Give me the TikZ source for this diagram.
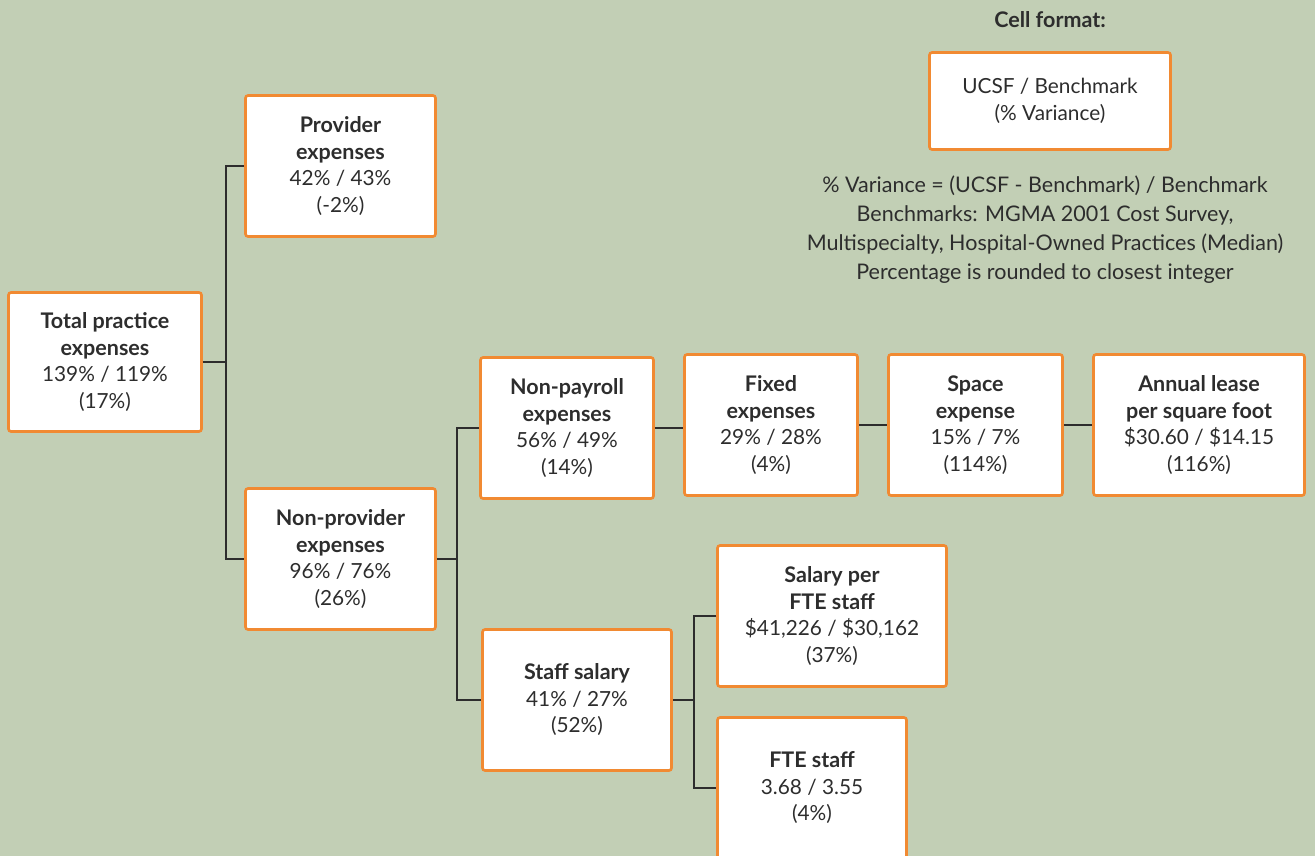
\documentclass[tikz,border=0pt]{standalone}
\usepackage{fontspec}
\setmainfont{Lato}
\usepackage{xcolor}
\usepackage{tikz}
\usetikzlibrary{positioning}
\definecolor{sage}{RGB}{194,207,181}
\definecolor{boxorange}{RGB}{241,138,50}
\definecolor{inkgray}{RGB}{45,45,45}
\newcommand{\hd}[1]{{\fontsize{21.5}{26.5}\selectfont\bfseries #1}}

\begin{document}
\begin{tikzpicture}[x=1pt,y=-1pt,
    cell/.style={draw=boxorange, line width=2.6pt, fill=white, rounded corners=2.5pt,
        align=center, inner sep=0pt, text=inkgray,
        font=\fontsize{20.8}{26.5}\selectfont},
    conn/.style={draw=inkgray, line width=1.1pt},
    note/.style={align=center, text=inkgray, font=\fontsize{21.5}{29}\selectfont}]
    \fill[sage] (0,0) rectangle (1315,856);
    \useasboundingbox (0,0) rectangle (1315,856);

    % cells of the tree
    \node[cell, minimum width=193pt, minimum height=139pt] (total) at (105,362)
        {\hd{Total practice}\\\hd{expenses}\\139\% / 119\%\\(17\%)};
    \node[cell, minimum width=190pt, minimum height=141pt] (prov) at (340.5,166)
        {\hd{Provider}\\\hd{expenses}\\42\% / 43\%\\(-2\%)};
    \node[cell, minimum width=190pt, minimum height=141pt] (nonprov) at (340.5,559)
        {\hd{Non-provider}\\\hd{expenses}\\96\% / 76\%\\(26\%)};
    \node[cell, minimum width=173pt, minimum height=141pt] (nonpay) at (567,428)
        {\hd{Non-payroll}\\\hd{expenses}\\56\% / 49\%\\(14\%)};
    \node[cell, minimum width=173pt, minimum height=141pt] (fixed) at (771,425)
        {\hd{Fixed}\\\hd{expenses}\\29\% / 28\%\\(4\%)};
    \node[cell, minimum width=174pt, minimum height=141pt] (space) at (975.5,425)
        {\hd{Space}\\\hd{expense}\\15\% / 7\%\\(114\%)};
    \node[cell, minimum width=211pt, minimum height=141pt] (lease) at (1199,425)
        {\hd{Annual lease}\\\hd{per square foot}\\\$30.60 / \$14.15\\(116\%)};
    \node[cell, minimum width=189pt, minimum height=141pt] (staff) at (577,700)
        {\hd{Staff salary}\\41\% / 27\%\\(52\%)};
    \node[cell, minimum width=229pt, minimum height=141pt] (perfte) at (832,616)
        {\hd{Salary per}\\\hd{FTE staff}\\\$41,226 / \$30,162\\(37\%)};
    \node[cell, minimum width=189pt, minimum height=141pt] (fte) at (812,788)
        {\hd{FTE staff}\\3.68 / 3.55\\(4\%)};

    % legend
    \node[note] (fmt) at (1050,20) {\hd{Cell format:}};
    \node[cell, minimum width=241pt, minimum height=97pt] (legend) at (1050,101)
        {UCSF / Benchmark\\(\% Variance)};
    \node[note] (defs) at (1045,230)
        {\% Variance = (UCSF - Benchmark) / Benchmark\\
         Benchmarks: MGMA 2001 Cost Survey,\\
         Multispecialty, Hospital-Owned Practices (Median)\\
         Percentage is rounded to closest integer};

    % connectors
    \coordinate (jA) at (226,362);
    \coordinate (jB) at (457,559);
    \coordinate (jC) at (694,700);
    \draw[conn] (total.east) -- (jA);
    \draw[conn] (prov.west) -| (jA) |- (nonprov.west);
    \draw[conn] (nonprov.east) -- (jB);
    \draw[conn] (nonpay.west) -| (jB) |- (staff.west);
    \draw[conn] (nonpay.east) -- (nonpay.east -| fixed.west);
    \draw[conn] (fixed.east) -- (space.west);
    \draw[conn] (space.east) -- (lease.west);
    \draw[conn] (staff.east) -- (jC);
    \draw[conn] (perfte.west) -| (jC) |- (fte.west);
\end{tikzpicture}
\end{document}
